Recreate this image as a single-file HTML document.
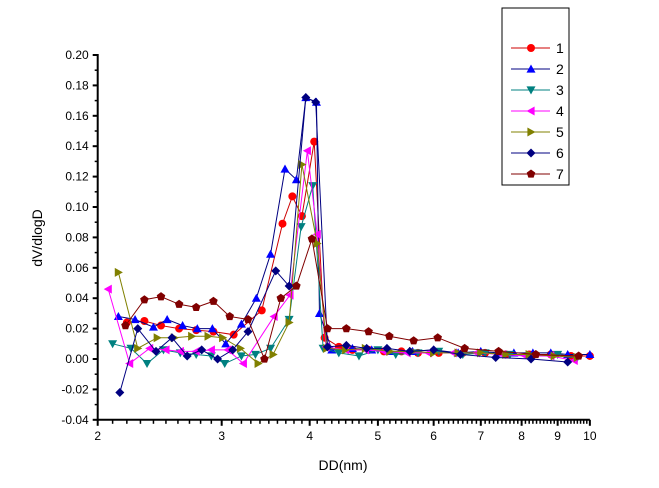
<!DOCTYPE html>
<html><head><meta charset="utf-8"><style>
body{margin:0;background:#fff;}
svg{display:block;font-family:"Liberation Sans",sans-serif;}
</style></head><body>
<svg id="chart" width="659" height="488" viewBox="0 0 659 488"></svg>
<script>
const yTicks=[0.20,0.18,0.16,0.14,0.12,0.10,0.08,0.06,0.04,0.02,0.00,-0.02,-0.04];
const xTicks=[2,3,4,5,6,7,8,9,10];
const seriesNames=["1","2","3","4","5","6","7"];
const d1=[2.2,2.33,2.46,2.61,2.76,2.92,3.12,3.42,3.66,3.78,3.9,4.06,4.2,4.4,4.6,4.85,5.1,5.4,5.7,6.1,6.6,7.1,7.6,8.2,8.8,9.4,10];
const v1=[0.024,0.025,0.022,0.020,0.019,0.018,0.016,0.032,0.089,0.107,0.094,0.143,0.014,0.008,0.006,0.006,0.005,0.005,0.004,0.004,0.004,0.004,0.003,0.003,0.003,0.002,0.002];
const d2=[2.14,2.26,2.4,2.51,2.64,2.77,2.91,3.04,3.2,3.36,3.52,3.69,3.83,3.95,4.09,4.13,4.3,4.6,4.9,5.2,5.6,6.0,6.5,7.0,7.4,7.8,8.3,8.8,9.3,10];
const v2=[0.028,0.026,0.021,0.026,0.022,0.020,0.020,0.010,0.023,0.040,0.069,0.125,0.118,0.172,0.169,0.030,0.006,0.007,0.006,0.005,0.005,0.006,0.004,0.005,0.004,0.004,0.004,0.004,0.003,0.003];
const d3=[2.1,2.23,2.35,2.48,2.62,2.76,2.9,3.03,3.2,3.35,3.52,3.74,3.89,4.04,4.18,4.4,4.7,5.0,5.3,5.7,6.1,6.6,7.1,7.7,8.3,9.0,9.6];
const v3=[0.010,0.007,-0.003,0.006,0.004,0.003,0.002,-0.003,0.002,0.003,0.007,0.026,0.087,0.114,0.007,0.004,0.002,0.006,0.003,0.004,0.005,0.003,0.004,0.003,0.002,0.003,0.001];
const d4=[2.07,2.22,2.37,2.5,2.62,2.76,2.9,3.06,3.22,3.56,3.75,3.97,4.1,4.22,4.5,4.8,5.1,5.5,5.9,6.4,6.9,7.5,8.1,8.8,9.5];
const v4=[0.046,-0.003,0.007,0.006,0.005,0.005,0.006,0.006,-0.003,0.028,0.042,0.137,0.082,0.008,0.006,0.006,0.005,0.004,0.004,0.004,0.004,0.003,0.002,0.002,-0.001];
const d5=[2.14,2.28,2.43,2.57,2.72,2.87,3.01,3.19,3.38,3.55,3.74,3.9,4.1,4.23,4.5,4.8,5.2,5.6,6.0,6.5,7.0,7.6,8.2,8.9,9.6];
const v5=[0.057,0.007,0.014,0.014,0.015,0.015,0.014,0.007,-0.003,0.003,0.024,0.128,0.076,0.007,0.006,0.007,0.005,0.005,0.004,0.004,0.004,0.003,0.003,0.002,0.001];
const d6=[2.15,2.28,2.42,2.55,2.68,2.81,2.96,3.11,3.27,3.58,3.74,3.95,4.08,4.24,4.51,4.82,5.15,5.55,6.0,6.55,7.35,8.25,9.3];
const v6=[-0.022,0.020,0.005,0.014,0.002,0.006,0.000,0.006,0.018,0.058,0.048,0.172,0.169,0.008,0.009,0.007,0.007,0.005,0.006,0.003,0.001,0.000,-0.002];
const d7=[2.19,2.33,2.46,2.61,2.76,2.92,3.08,3.27,3.45,3.64,3.83,4.03,4.24,4.51,4.85,5.19,5.62,6.08,6.64,7.42,8.38,9.64];
const v7=[0.022,0.039,0.041,0.036,0.034,0.038,0.028,0.026,0.000,0.040,0.048,0.079,0.020,0.020,0.018,0.015,0.012,0.014,0.007,0.005,0.003,0.002];
const seriesD=[d1,d2,d3,d4,d5,d6,d7];
const seriesV=[v1,v2,v3,v4,v5,v6,v7];
const fills=["#ff0000","#0000ff","#008080","#ff00ff","#808000","#000080","#800000"];
const strokes=["#cc0000","#000080","#008080","#ff00ff","#808000","#000080","#800000"];
const shapes=["circle","up","down","left","right","diamond","pentagon"];

const NS="http://www.w3.org/2000/svg";
const svg=document.getElementById("chart");
const X0=97.7,XS=305.8,Y0=359,YS=1520;
const xs=d=>X0+XS*Math.log(d/2);
const ys=v=>Y0-v*YS;
function mk(tag,attrs,parent){const e=document.createElementNS(NS,tag);for(const k in attrs)e.setAttribute(k,attrs[k]);(parent||svg).appendChild(e);return e;}
function marker(shape,cx,cy,fill,g){
  const r=4.5;let e;
  if(shape==="circle"){e=mk("circle",{cx,cy,r:4,fill},g);}
  else{
    let pts;
    if(shape==="up")pts=[[0,-r],[r,r*0.8],[-r,r*0.8]];
    else if(shape==="down")pts=[[0,r],[r,-r*0.8],[-r,-r*0.8]];
    else if(shape==="left")pts=[[-r,0],[r*0.8,-r],[r*0.8,r]];
    else if(shape==="right")pts=[[r,0],[-r*0.8,-r],[-r*0.8,r]];
    else if(shape==="diamond")pts=[[0,-r],[r,0],[0,r],[-r,0]];
    else {pts=[];for(let i=0;i<5;i++){const a=-Math.PI/2+i*2*Math.PI/5;pts.push([r*Math.cos(a),r*Math.sin(a)]);}}
    e=mk("polygon",{points:pts.map(p=>(cx+p[0])+","+(cy+p[1])).join(" "),fill},g);
  }
  return e;
}
// axes
const ax=mk("g",{});


mk("line",{x1:X0,y1:ys(0.20)-1,x2:X0,y2:ys(-0.04)+1,stroke:"#000","stroke-width":2},ax);
mk("line",{x1:X0-1,y1:ys(-0.04),x2:xs(10),y2:ys(-0.04),stroke:"#000","stroke-width":2},ax);
yTicks.forEach(t=>{
  const y=ys(t);
  mk("line",{x1:X0-5,y1:y,x2:X0,y2:y,stroke:"#000","stroke-width":2},ax);
  const tx=mk("text",{x:X0-9,y:y+4,"text-anchor":"end","font-size":12,fill:"#000"},ax);
  tx.textContent=t.toFixed(2);
  
  
});
for(let i=0;i<yTicks.length-1;i++){const y=ys((yTicks[i]+yTicks[i+1])/2);mk("line",{x1:X0-3,y1:y,x2:X0,y2:y,stroke:"#000","stroke-width":1.5},ax);}
xTicks.forEach((t,i)=>{
  const x=xs(t);
  mk("line",{x1:x,y1:ys(-0.04),x2:x,y2:ys(-0.04)+6,stroke:"#000","stroke-width":2},ax);
  const tx=mk("text",{x:x,y:ys(-0.04)+20,"text-anchor":"middle","font-size":12,fill:"#000"},ax);
  tx.textContent=t;
  
  
  if(i<xTicks.length-1){for(let k=1;k<10;k++){const xm=xs(t+k*(xTicks[i+1]-t)/10);mk("line",{x1:xm,y1:ys(-0.04),x2:xm,y2:ys(-0.04)+4,stroke:"#000","stroke-width":1.5},ax);}}
});
const yt=mk("text",{x:0,y:0,transform:"translate(42,238) rotate(-90)","text-anchor":"middle","font-size":14,fill:"#000"});
yt.textContent="dV/dlogD";


const xt=mk("text",{x:343,y:470,"text-anchor":"middle","font-size":14,fill:"#000"});
xt.textContent="DD(nm)";


// series
seriesD.forEach((D,s)=>{
  const g=mk("g",{});
  
  
  mk("polyline",{points:D.map((d,i)=>xs(d)+","+ys(seriesV[s][i])).join(" "),fill:"none",stroke:strokes[s],"stroke-width":1},g);
  D.forEach((d,i)=>{
    const m=marker(shapes[s],xs(d),ys(seriesV[s][i]),fills[s],g);
    
    
  });
});
// legend
const lg=mk("g",{});


mk("rect",{x:502,y:8,width:67,height:177,fill:"#fff",stroke:"#000","stroke-width":1},lg);
seriesNames.forEach((n,s)=>{
  const y=48+s*21;
  const e=mk("g",{},lg);
  
  
  mk("line",{x1:511,y1:y,x2:550,y2:y,stroke:strokes[s],"stroke-width":1},e);
  marker(shapes[s],531,y,fills[s],e);
  const t=mk("text",{x:556,y:y+5,"font-size":14,fill:"#000"},e);
  t.textContent=n;
});
</script>
</body></html>
